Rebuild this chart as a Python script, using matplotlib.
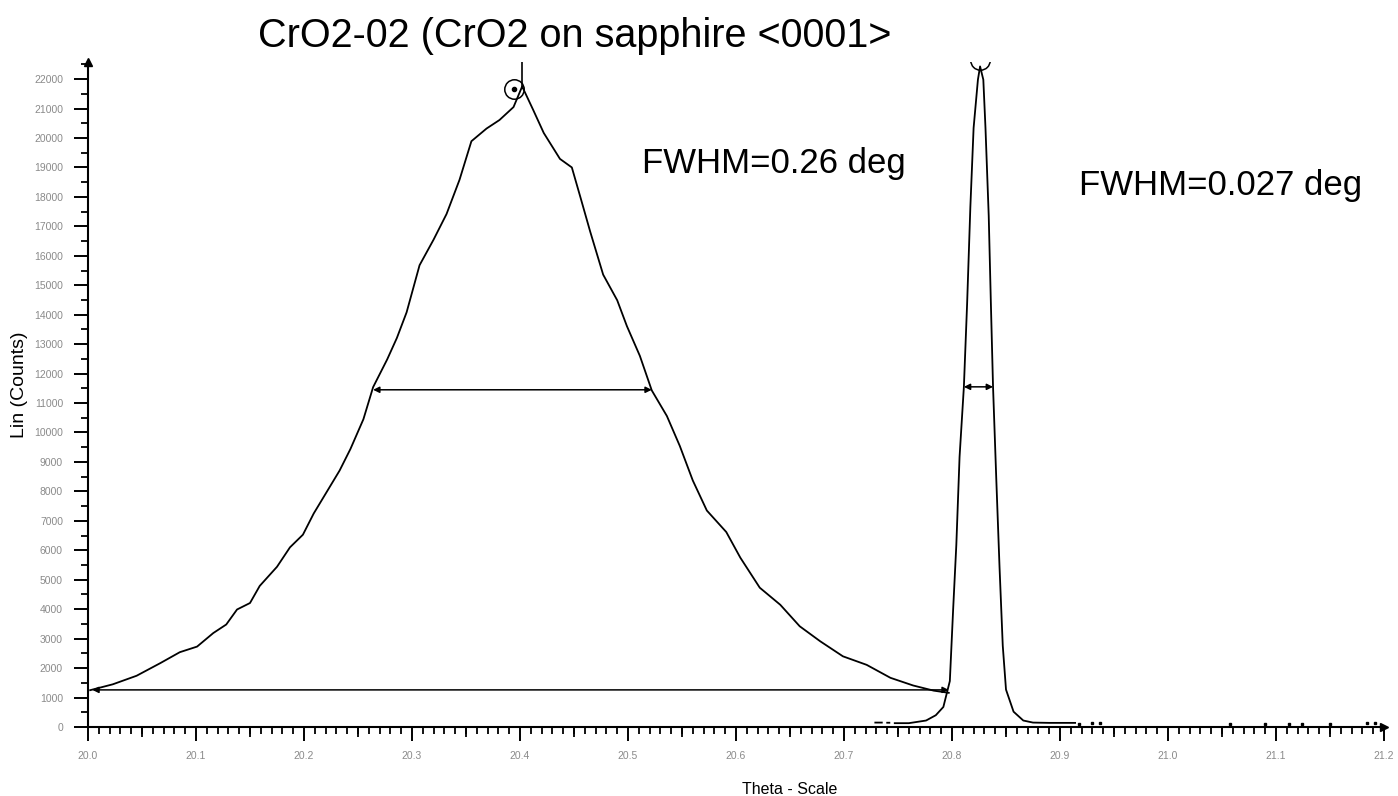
import numpy as np
import matplotlib
matplotlib.use("Agg")
import matplotlib.pyplot as plt
from matplotlib.ticker import MultipleLocator

plt.rcParams['font.family'] = ['Liberation Sans', 'DejaVu Sans']

# broad CrO2 film peak
film_theta = [20.002, 20.023, 20.045, 20.067, 20.085, 20.101, 20.116, 20.128, 20.138,
              20.150, 20.159, 20.175, 20.187, 20.199, 20.209, 20.221, 20.233, 20.243,
              20.255, 20.264, 20.277, 20.286, 20.295, 20.307, 20.320, 20.332, 20.344,
              20.355, 20.369, 20.381, 20.394, 20.402, 20.412, 20.422, 20.437, 20.448,
              20.456, 20.465, 20.477, 20.490, 20.499, 20.511, 20.522, 20.536, 20.548,
              20.560, 20.573, 20.591, 20.604, 20.622, 20.641, 20.659, 20.678, 20.699,
              20.721, 20.743, 20.764, 20.783, 20.797]
film_counts = [1250, 1450, 1740, 2170, 2540, 2730, 3190, 3480, 3990,
               4210, 4790, 5440, 6100, 6530, 7250, 7980, 8710, 9440,
               10450, 11540, 12480, 13210, 14080, 15680, 16550, 17420, 18580,
               19890, 20320, 20610, 21050, 21750, 20970, 20170, 19290, 19000,
               17980, 16820, 15360, 14490, 13610, 12600, 11430, 10560, 9540,
               8370, 7350, 6620, 5750, 4730, 4150, 3420, 2910, 2400,
               2110, 1670, 1410, 1235, 1160]

# sharp sapphire substrate peak
sub_theta = [20.729, 20.735, np.nan, 20.740, 20.742, np.nan, 20.747, 20.760, 20.776,
             20.785, 20.792, 20.798, 20.801, 20.804, 20.807, 20.811, 20.814, 20.817,
             20.820, 20.824, 20.826, 20.829, 20.831, 20.834, 20.836, 20.838, 20.841,
             20.844, 20.847, 20.850, 20.857, 20.866, 20.875, 20.890, 20.914]
sub_counts = [150, 150, np.nan, 145, 145, np.nan, 130, 130, 220,
              400, 680, 1560, 3950, 6180, 9170, 11550, 14380, 17660,
              20340, 21980, 22430, 21980, 20340, 17360, 14380, 11550, 8420,
              5440, 2760, 1270, 520, 220, 150, 140, 140]

tail_theta = [20.918, 20.930, 20.937, 21.057, 21.090, 21.112, 21.124, 21.150, 21.184, 21.192]
tail_counts = [110, 150, 140, 110, 110, 110, 110, 110, 120, 120]

film_peak = (20.400, 21660)
sub_peak = (20.826, 22450)
film_fwhm = (20.264, 20.522, 11450)
sub_fwhm = (20.811, 20.838, 11550)
base_line = (20.004, 20.797, 1260)

fig = plt.figure(figsize=(13.98, 7.96), dpi=100)
ax = fig.add_axes([88 / 1398, 69 / 796, 1296 / 1398, 665 / 796])

ax.plot(film_theta, film_counts, color='black', lw=1.3)
ax.plot(sub_theta, sub_counts, color='black', lw=1.3)
ax.plot(tail_theta, tail_counts, ls='none', marker='s', ms=1.6, color='black')

# peak markers
ax.vlines(film_peak[0] + 0.002, film_peak[1], 22580, color='black', lw=1.2)
ax.plot(film_peak[0] - 0.006, film_peak[1], marker='o', ms=14, mfc='none', mec='black', mew=1.1)
ax.plot(film_peak[0] - 0.006, film_peak[1], marker='o', ms=3, color='black')
ax.plot(sub_peak[0], 22650, marker='o', ms=14, mfc='none', mec='black', mew=1.1)

arrow = dict(arrowstyle='<|-|>', mutation_scale=9, lw=1.1, color='black', shrinkA=0, shrinkB=0)
ax.annotate('', xy=(film_fwhm[0], film_fwhm[2]), xytext=(film_fwhm[1], film_fwhm[2]), arrowprops=arrow)
ax.annotate('', xy=(sub_fwhm[0], sub_fwhm[2]), xytext=(sub_fwhm[1], sub_fwhm[2]), arrowprops=arrow)
ax.annotate('', xy=(base_line[0], base_line[2]), xytext=(base_line[1], base_line[2]), arrowprops=arrow)

ax.set_xlim(20.0, 21.2)
ax.set_ylim(0, 22580)

for s in ['top', 'right']:
    ax.spines[s].set_visible(False)
for s in ['left', 'bottom']:
    ax.spines[s].set_linewidth(1.5)

# axis arrow heads
ax.plot(0, 1, marker='^', ms=6, color='black', transform=ax.transAxes, clip_on=False)
ax.plot(1, 0, marker='>', ms=6, color='black', transform=ax.transAxes, clip_on=False)

ax.xaxis.set_major_locator(MultipleLocator(0.1))
ax.xaxis.set_minor_locator(MultipleLocator(0.01))
ax.yaxis.set_major_locator(MultipleLocator(1000))
ax.yaxis.set_minor_locator(MultipleLocator(500))
ax.xaxis.set_major_formatter(plt.FuncFormatter(lambda v, p: f'{v:.1f}'))
ax.yaxis.set_major_formatter(plt.FuncFormatter(lambda v, p: f'{v:.0f}'))

ax.tick_params(axis='both', which='major', length=10, width=1.4, labelsize=7.5,
               labelcolor='#8a8a8a', pad=8)
ax.tick_params(axis='x', which='major', pad=7)
ax.tick_params(axis='both', which='minor', length=5, width=1.3)

sec = ax.secondary_xaxis('bottom')
sec.set_xticks(np.arange(20.05, 21.2, 0.1))
sec.set_xticklabels([])
sec.tick_params(length=7.5, width=1.3)
sec.spines['bottom'].set_visible(False)

fig.text(20 / 1398, 1 - 385 / 796, 'Lin (Counts)', fontsize=14, rotation=90,
         ha='center', va='center')
fig.text(790 / 1398, 1 - 790 / 796, 'Theta - Scale', fontsize=11.5, ha='center', va='center')

fig.text(258 / 1398, 1 - 36 / 796, 'CrO2-02 (CrO2 on sapphire <0001>', fontsize=28.5,
         ha='left', va='center')
fig.text(642 / 1398, 1 - 163 / 796, 'FWHM=0.26 deg', fontsize=25, ha='left', va='center')
fig.text(1079 / 1398, 1 - 185 / 796, 'FWHM=0.027 deg', fontsize=25, ha='left', va='center')

fig.savefig('out.png', dpi=100)
